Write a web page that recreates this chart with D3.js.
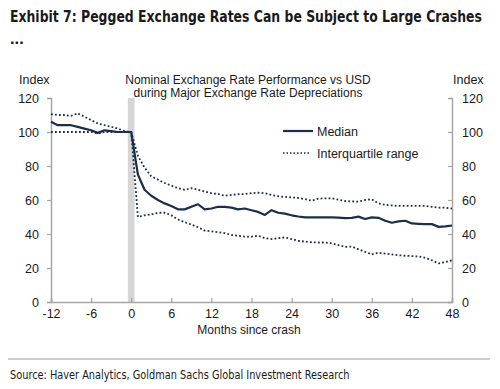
<!DOCTYPE html>
<html>
<head>
<meta charset="utf-8">
<script src="https://cdn.jsdelivr.net/npm/d3@7"></script>
<style>
  body { margin: 0; background: #fff; }
  text { font-family: "Liberation Sans", Arial, sans-serif; fill: #1a1a1a; }
</style>
</head>
<body>
<div id="chart"></div>
<script>
// months since crash
const months = d3.range(-12, 49);

// median index
const median = [106, 104, 104, 104, 103, 102, 101, 99.5, 101, 100.5, 100, 100, 100,
  75, 66, 62.5, 60, 58, 56.5, 54.5, 54.5, 56, 57.5, 54.5, 55, 56, 56, 55.5, 54.5, 55, 54,
  53, 51.2, 54, 52.5, 52, 51, 50.3, 49.8, 49.8, 49.8, 49.8, 49.8, 49.6, 49.3, 49.5, 50.2,
  48.8, 49.8, 49.5, 47.8, 46.6, 47.4, 47.8, 46.2, 46, 45.8, 45.8, 44.2, 44.5, 45];

// upper quartile
const upper = [110.5, 110, 110, 109.5, 111, 109, 107, 105, 104, 103, 102, 100.5, 100,
  86, 79, 74, 72, 70, 68.5, 67, 66, 67, 66, 65, 64, 63.5, 62.5, 63, 63.4, 63.5, 64,
  64.3, 64, 63, 62.2, 61.8, 61.5, 61.2, 60.5, 59.6, 60.8, 61, 61, 60.2, 59.4, 59.2, 59,
  60, 60.4, 58, 57.2, 56.8, 56.5, 56.5, 56.5, 56.5, 56.5, 56, 55.5, 55.5, 54.9];

// lower quartile
const lower = [100, 100, 100, 100, 100, 100, 100, 99, 100, 100, 100, 100, 100,
  50, 51, 51.5, 52.5, 52.5, 51, 48.5, 47, 45.5, 44, 42, 41.5, 41, 40.5, 39.5, 39, 38.5, 38.5,
  39, 37.5, 37, 37.5, 38, 37, 36, 35.5, 35.2, 35, 35, 34.5, 33.5, 32.4, 32.6, 31,
  29.5, 28, 29, 28.5, 28, 27.5, 27.2, 27, 26.8, 26, 24.5, 22.7, 23.5, 24.6];

const xTicks = [-12, -6, 0, 6, 12, 18, 24, 30, 36, 42, 48];
const yTicks = [0, 20, 40, 60, 80, 100, 120];

const W = 500, H = 389;
const margin = {top: 98, right: 48, bottom: 87, left: 51};
const width = 452 - margin.left, height = 302 - margin.top;
const navy = "#1c2f4a";
const axisGrey = "#a6a6a6";

const svg = d3.select("#chart").append("svg")
  .attr("width", W).attr("height", H);

// squeeze a text horizontally so it spans the given width
function fitWidth(sel, x0, target) {
  const w = sel.node().getComputedTextLength();
  const sx = Math.min(1, target / w);
  sel.attr("x", 0)
    .attr("transform", `translate(${x0},0) scale(${sx},1)`);
}

// header
const title = svg.append("text")
  .attr("y", 22)
  .style("font-family", "'Liberation Sans Narrow', 'DejaVu Sans Condensed', sans-serif")
  .style("font-weight", "bold").style("font-size", "16.5px")
  .text("Exhibit 7: Pegged Exchange Rates Can be Subject to Large Crashes");
fitWidth(title, 10, 472);
svg.append("text")
  .attr("x", 10).attr("y", 44)
  .style("font-family", "'Liberation Sans Narrow', sans-serif")
  .style("font-weight", "bold").style("font-size", "16.5px")
  .text("...");

const g = svg.append("g")
  .attr("transform", `translate(${margin.left},${margin.top})`);

const x = d3.scaleLinear().domain([-12, 48]).range([0, width]);
const y = d3.scaleLinear().domain([0, 120]).range([height, 0]);

// shaded crash month
g.append("rect")
  .attr("x", x(-0.5)).attr("width", x(0.5) - x(-0.5))
  .attr("y", 0).attr("height", height)
  .attr("fill", "#d6d6d6");

// axes
const left = g.append("g")
  .call(d3.axisLeft(y).tickValues(yTicks).tickSize(4).tickPadding(8));
const right = g.append("g")
  .attr("transform", `translate(${width},0)`)
  .call(d3.axisRight(y).tickValues(yTicks).tickSize(-4).tickPadding(10));
const bottom = g.append("g")
  .attr("transform", `translate(0,${height})`)
  .call(d3.axisBottom(x).tickValues(xTicks).tickFormat(d => String(d))
    .tickSize(-4).tickPadding(7));

[left, right, bottom].forEach(a => {
  a.select(".domain").attr("stroke", axisGrey).attr("stroke-width", 1.5);
  a.selectAll(".tick line").attr("stroke", axisGrey).attr("stroke-width", 1.2);
  a.selectAll(".tick text")
    .style("font-family", "'Liberation Sans', Arial, sans-serif")
    .style("font-size", "12.5px").attr("fill", "#1a1a1a");
});

// lines
const line = vals => d3.line()
  .x((d, i) => x(months[i]))
  .y(d => y(d))(vals);

[upper, lower].forEach(s => {
  g.append("path")
    .attr("d", line(s))
    .attr("fill", "none")
    .attr("stroke", navy)
    .attr("stroke-width", 1.8)
    .attr("stroke-dasharray", "1.8,2.2");
});
g.append("path")
  .attr("d", line(median))
  .attr("fill", "none")
  .attr("stroke", navy)
  .attr("stroke-width", 2.2)
  .attr("stroke-linejoin", "round");

// axis titles
svg.append("text").attr("x", 19).attr("y", 84).style("font-size", "12.5px").text("Index");
svg.append("text").attr("x", 453).attr("y", 84).style("font-size", "12.5px").text("Index");
svg.append("text").attr("x", 249).attr("y", 334).attr("text-anchor", "middle")
  .style("font-size", "12px").text("Months since crash");

// chart subtitle
svg.append("text").attr("x", 248).attr("y", 84).attr("text-anchor", "middle")
  .style("font-size", "12px").text("Nominal Exchange Rate Performance vs USD");
svg.append("text").attr("x", 248).attr("y", 97).attr("text-anchor", "middle")
  .style("font-size", "12px").text("during Major Exchange Rate Depreciations");

// legend
svg.append("line").attr("x1", 283).attr("x2", 313).attr("y1", 131).attr("y2", 131)
  .attr("stroke", navy).attr("stroke-width", 2.2);
svg.append("text").attr("x", 317).attr("y", 135.5).style("font-size", "12.5px").text("Median");
svg.append("line").attr("x1", 283).attr("x2", 311).attr("y1", 153).attr("y2", 153)
  .attr("stroke", navy).attr("stroke-width", 1.5).attr("stroke-dasharray", "1.5,2");
svg.append("text").attr("x", 317).attr("y", 157.5).style("font-size", "12.5px").text("Interquartile range");

// footer
svg.append("line").attr("x1", 8).attr("x2", 490).attr("y1", 359).attr("y2", 359)
  .attr("stroke", "#9a9a9a").attr("stroke-width", 1);
const source = svg.append("text").attr("y", 379)
  .style("font-family", "'Liberation Sans Narrow', 'DejaVu Sans Condensed', sans-serif")
  .style("font-size", "13px").attr("fill", "#333")
  .text("Source: Haver Analytics, Goldman Sachs Global Investment Research");
fitWidth(source, 10, 340);
</script>
</body>
</html>
